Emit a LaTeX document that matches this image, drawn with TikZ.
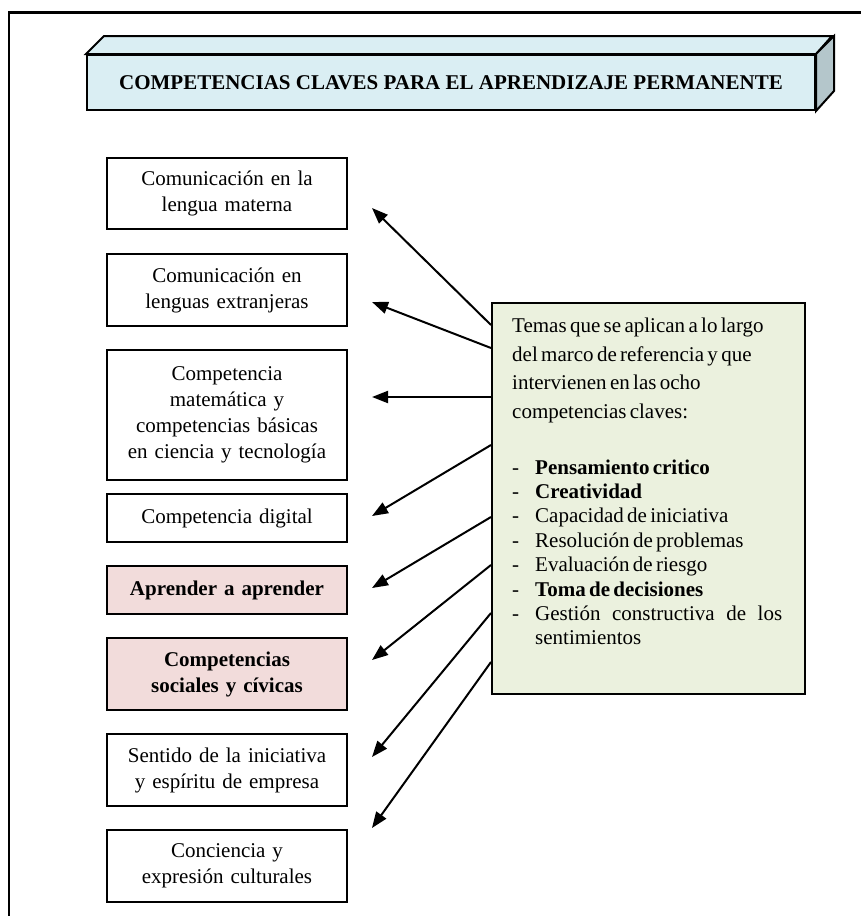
\documentclass[tikz,border=0pt]{standalone}
\usepackage{fontspec}
\setmainfont{Liberation Serif}
\usetikzlibrary{arrows.meta,calc}
\definecolor{titlefill}{HTML}{DAEEF3}
\definecolor{titleside}{HTML}{B4C6CB}
\definecolor{pinkfill}{HTML}{F2DCDB}
\definecolor{greenfill}{HTML}{EBF1DE}
\newcommand{\gitem}[1]{\hangindent=23pt\hangafter=1\noindent\makebox[23pt][l]{-}#1\par}
\begin{document}
\begin{tikzpicture}[x=1pt,y=-1pt,
  compbox/.style={draw, line width=2pt, text width=232pt, inner xsep=4pt, inner ysep=0pt, align=center, font=\fontsize{21}{26}\selectfont},
  arr/.style={line width=2pt, -{Triangle[length=16pt,width=12pt]}},
  face/.style={draw, line width=2pt, line join=miter}]
\useasboundingbox (0,0) rectangle (861,916);
% outer frame
\draw[line width=2.5pt] (9,916) -- (9,12.5) -- (861,12.5);
% title block
\node[draw, line width=2pt, fill=titlefill, minimum width=728pt, minimum height=55pt, inner sep=0pt,
      font=\bfseries\fontsize{21}{26}\selectfont] (title) at (451,82.5)
      {COMPETENCIAS CLAVES PARA EL APRENDIZAJE PERMANENTE};
\filldraw[face, fill=titlefill] (title.north west) -- ++(18,-18) -- ++(728,0) -- (title.north east) -- cycle;
\filldraw[face, fill=titleside] (title.north east) -- ++(18,-18) -- ++(0,55) -- (title.south east) -- cycle;
% competence boxes
\node[compbox, minimum height=71pt] (b1) at (227,193.5) {Comunicación en la\\lengua materna};
\node[compbox, minimum height=72pt] (b2) at (227,290) {Comunicación en\\lenguas extranjeras};
\node[compbox, minimum height=130pt] (b3) at (227,415) {Competencia\\matemática y\\competencias básicas\\en ciencia y tecnología};
\node[compbox, minimum height=48pt] (b4) at (227,518) {Competencia digital};
\node[compbox, minimum height=48pt, fill=pinkfill, font=\bfseries\fontsize{21}{26}\selectfont] (b5) at (227,590) {Aprender a aprender};
\node[compbox, minimum height=72pt, fill=pinkfill, font=\bfseries\fontsize{21}{26}\selectfont] (b6) at (227,674) {Competencias\\sociales y cívicas};
\node[compbox, minimum height=72pt] (b7) at (227,770) {Sentido de la iniciativa\\y espíritu de empresa};
\node[compbox, minimum height=72pt] (b8) at (227,866) {Conciencia y\\expresión culturales};
% green box
\node[draw, line width=2pt, fill=greenfill, minimum width=313pt, minimum height=391pt, inner sep=0pt, anchor=north west] (green) at (491,302) {};
\node[anchor=north west, inner sep=0pt, text width=270pt] (gtext) at (512,318) {\raggedright
{\fontsize{21}{28.5}\selectfont Temas que se aplican a lo largo\\del marco de referencia y que\\intervienen en las ocho\\competencias claves:\par}
\vspace{31.5pt}
{\fontsize{21}{24.4}\selectfont
\gitem{\textbf{Pensamiento critico}}
\gitem{\textbf{Creatividad}}
\gitem{Capacidad de iniciativa}
\gitem{Resolución de problemas}
\gitem{Evaluación de riesgo}
\gitem{\textbf{Toma de decisiones}}
\gitem{Gestión\hfill constructiva\hfill de\hfill los\newline sentimientos}
}};
% arrow tips
\coordinate (t1) at (372,208);
\coordinate (t2) at (372,302);
\coordinate (t3) at (372,397);
\coordinate (t4) at (372,516);
\coordinate (t5) at (372,588);
\coordinate (t6) at (372,660);
\coordinate (t7) at (372,757);
\coordinate (t8) at (372,828);
\draw[arr] ($(green.north west)+(0,23)$) -- (t1);
\draw[arr] ($(green.north west)+(0,46)$) -- (t2);
\draw[arr] ($(green.north west)+(0,95)$) -- (t3);
\draw[arr] ($(green.north west)+(0,143)$) -- (t4);
\draw[arr] ($(green.north west)+(0,215)$) -- (t5);
\draw[arr] ($(green.north west)+(0,263)$) -- (t6);
\draw[arr] ($(green.north west)+(0,311)$) -- (t7);
\draw[arr] ($(green.north west)+(0,360)$) -- (t8);
\end{tikzpicture}
\end{document}
